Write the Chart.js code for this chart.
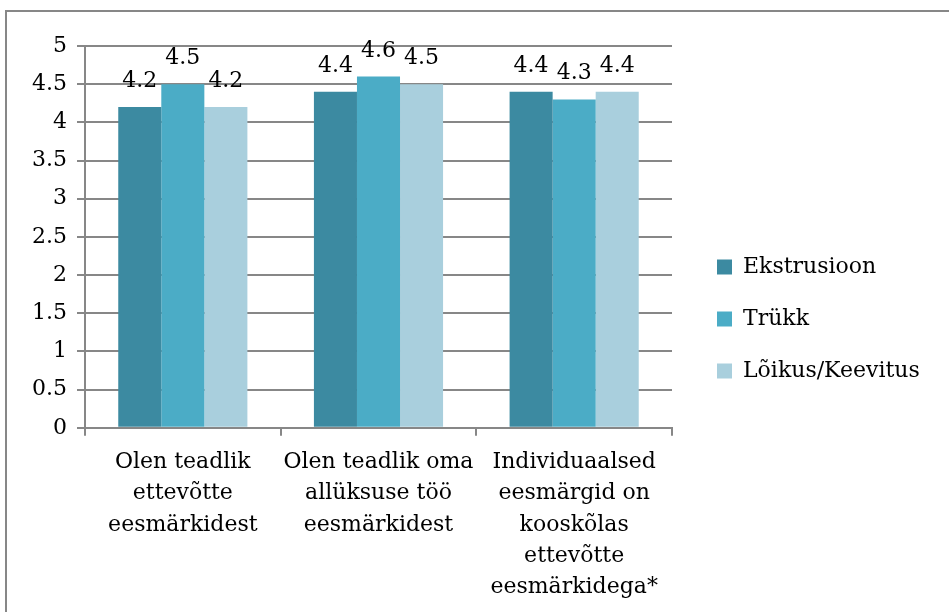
<!DOCTYPE html>
<html>
<head>
<meta charset="utf-8">
<script src="https://cdn.jsdelivr.net/npm/chart.js@4"></script>
<style>
  html, body { margin: 0; padding: 0; background: #fff; }
  #wrap { position: relative; width: 949px; height: 612px; }
</style>
</head>
<body>
<div id="wrap"><canvas id="chart"></canvas></div>
<script>
/* global Chart:false */

var categories = [
  ["Olen teadlik", "ettevõtte", "eesmärkidest"],
  ["Olen teadlik oma", "allüksuse töö", "eesmärkidest"],
  ["Individuaalsed", "eesmärgid on", "kooskõlas", "ettevõtte", "eesmärkidega*"],
];
var ekstrusioon = [4.2, 4.4, 4.4];
var trukk = [4.5, 4.6, 4.3];
var loikus = [4.2, 4.5, 4.4];
var seriesNames = ["Ekstrusioon", "Trükk", "Lõikus/Keevitus"];
var yTicks = [0, 0.5, 1, 1.5, 2, 2.5, 3, 3.5, 4, 4.5, 5];

var FONT = "'DejaVu Serif', serif";
var FONT_SIZE = 22;
var gridColor = "#878787";

// frame of the chart object (only top and left edges are visible)
var framePlugin = {
  id: "frame",
  beforeDraw: function (chart) {
    var ctx = chart.ctx;
    ctx.save();
    ctx.strokeStyle = gridColor;
    ctx.lineWidth = 2;
    ctx.beginPath();
    ctx.moveTo(6, chart.height);
    ctx.lineTo(6, 11);
    ctx.lineTo(chart.width, 11);
    ctx.stroke();
    ctx.restore();
  },
};

// value labels above each bar
var valueLabels = {
  id: "valueLabels",
  afterDatasetsDraw: function (chart) {
    var ctx = chart.ctx;
    ctx.save();
    ctx.font = FONT_SIZE + "px " + FONT;
    ctx.fillStyle = "#000";
    ctx.textAlign = "center";
    ctx.textBaseline = "alphabetic";
    chart.data.datasets.forEach(function (ds, i) {
      chart.getDatasetMeta(i).data.forEach(function (bar, j) {
        ctx.fillText(ds.data[j].toFixed(1), bar.x, bar.y - 20);
      });
    });
    ctx.restore();
  },
};

// move the legend a bit further from the plot, like the original,
// and let its text run to the canvas edge without clipping
var legendNudge = {
  id: "legendNudge",
  afterLayout: function (chart) {
    var lg = chart.legend;
    if (!lg) return;
    lg.left += 15;
    lg.right = chart.width;
    lg.top -= 11;
    lg.bottom -= 11;
  },
};

new Chart(document.getElementById("chart").getContext("2d"), {
  type: "bar",
  data: {
    labels: categories,
    datasets: [
      { label: seriesNames[0], data: ekstrusioon, backgroundColor: "#3c8aa1" },
      { label: seriesNames[1], data: trukk, backgroundColor: "#4bacc6" },
      { label: seriesNames[2], data: loikus, backgroundColor: "#a9cfdd" },
    ],
  },
  plugins: [framePlugin, valueLabels, legendNudge],
  options: {
    responsive: true,
    maintainAspectRatio: false,
    animation: false,
    devicePixelRatio: 1,
    layout: {
      padding: { top: 46, left: 22, right: 47, bottom: -2 },
    },
    datasets: {
      bar: {
        categoryPercentage: 0.66,
        barPercentage: 1,
        borderWidth: 0,
      },
    },
    plugins: {
      tooltip: { enabled: false },
      legend: {
        position: "right",
        maxWidth: 230,
        labels: {
          font: { family: FONT, size: FONT_SIZE },
          color: "#000",
          boxWidth: 15,
          boxHeight: 15,
          padding: 30,
        },
      },
    },
    scales: {
      x: {
        grid: {
          drawOnChartArea: false,
          drawTicks: true,
          tickLength: 8,
          color: gridColor,
          lineWidth: 2,
          offset: true,
        },
        border: { color: gridColor, width: 2 },
        ticks: {
          color: "#000",
          font: { family: FONT, size: FONT_SIZE, lineHeight: 1.42 },
          maxRotation: 0,
          autoSkip: false,
          padding: 11,
        },
      },
      y: {
        min: 0,
        max: 5,
        afterBuildTicks: function (scale) {
          scale.ticks = yTicks.map(function (v) {
            return { value: v };
          });
        },
        grid: {
          color: gridColor,
          lineWidth: 2,
          tickLength: 8,
        },
        border: { color: gridColor, width: 2 },
        ticks: {
          color: "#000",
          font: { family: FONT, size: FONT_SIZE },
          padding: 10,
          callback: function (v) {
            return String(v);
          },
        },
      },
    },
  },
});
</script>
</body>
</html>
